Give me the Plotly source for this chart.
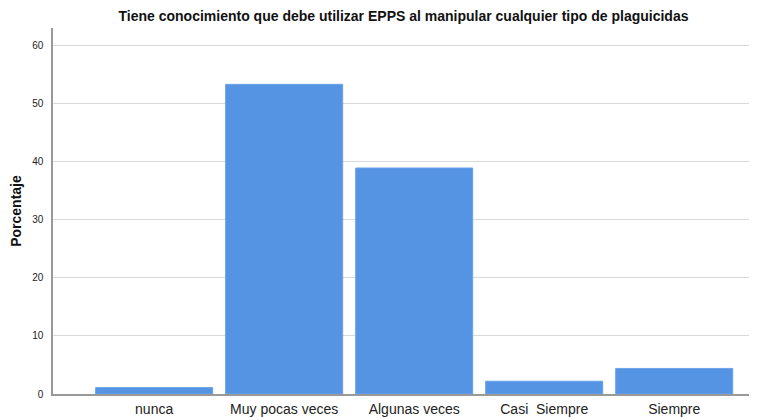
import plotly.graph_objects as go

categorias = ['nunca', 'Muy pocas veces', 'Algunas veces', 'Casi  Siempre', 'Siempre']
porcentajes = [1.1, 53.3, 38.9, 2.2, 4.4]
y_ticks = [0, 10, 20, 30, 40, 50, 60]

titulo = 'Tiene conocimiento que debe utilizar EPPS al manipular cualquier tipo de plaguicidas'

# the page body has an 8px default margin, so the figure is laid out shifted by -8px
fig = go.Figure()
fig.add_trace(go.Bar(
    x=list(range(len(categorias))),
    y=porcentajes,
    marker=dict(color='#5593e3', line=dict(color='#6aa2ea', width=1)),
    width=0.9,
    showlegend=False,
    hoverinfo='skip'
))

fig.update_layout(
    width=757, height=418,
    margin=dict(l=45, r=9, t=20, b=32, autoexpand=False),
    plot_bgcolor='white', paper_bgcolor='white',
    font=dict(family='Arial, Liberation Sans', color='#222222'),
    title=dict(text='<b>' + titulo + '</b>', x=(43 + 748) / 2 / 757, xanchor='center',
               y=1 - 8 / 418, yanchor='middle', font=dict(size=14, color='#111111')),
)

fig.update_xaxes(
    tickmode='array', tickvals=list(range(len(categorias))), ticktext=categorias,
    range=[-0.778, 4.629], showgrid=False, zeroline=False,
    showline=True, linecolor='#999999', linewidth=1.5,
    ticks='outside', ticklen=1, tickcolor='rgba(0,0,0,0)',
    tickfont=dict(size=14, color='#222222'), automargin=False
)

fig.update_yaxes(
    range=[0, 63], tickmode='array', tickvals=y_ticks, ticktext=[str(v) for v in y_ticks],
    showgrid=True, gridcolor='#d9d9d9', gridwidth=1, zeroline=False,
    showline=True, linecolor='#999999', linewidth=1.5,
    ticks='outside', ticklen=6, tickcolor='rgba(0,0,0,0)',
    tickfont=dict(size=10, color='#222222'), automargin=False,
    title=dict(text='<b>Porcentaje</b>', font=dict(size=14, color='#111111'), standoff=12)
)

fig.write_html('out.html')
